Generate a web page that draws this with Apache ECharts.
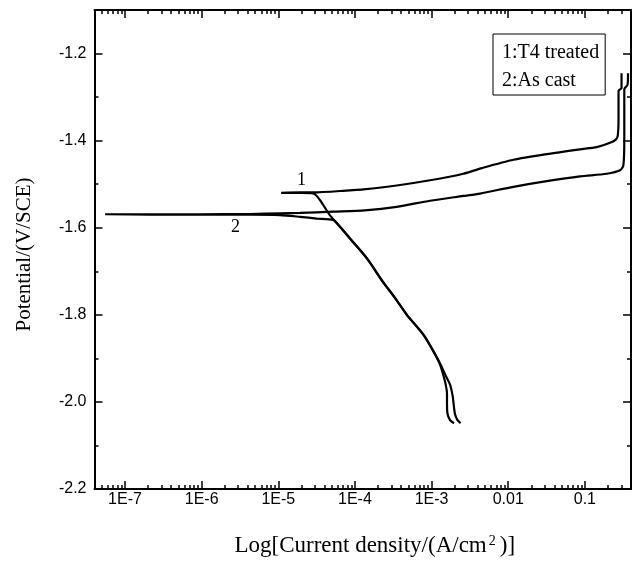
<!DOCTYPE html>
<html><head><meta charset="utf-8">
<script src="https://cdn.jsdelivr.net/npm/echarts@6/dist/echarts.min.js"></script>
<style>html,body{margin:0;padding:0;background:#fff}#c{width:635px;height:562px}</style>
</head><body><div id="c"></div><script>
// ---- data (current density A/cm^2, potential V/SCE) ----
const seriesNames = ['1:T4 treated', '2:As cast'];
const t4Cathodic = [[1.96e-3,-2.049],[1.74e-3,-2.042],[1.61e-3,-2.026],[1.59e-3,-2.001],[1.59e-3,-1.981],[1.52e-3,-1.958],[1.41e-3,-1.936],[1.29e-3,-1.914],[1.05e-3,-1.883],[7.8e-4,-1.845],[4.74e-4,-1.800],[3.33e-4,-1.761],[2.3e-4,-1.723],[1.43e-4,-1.670],[8.6e-5,-1.624],[4.7e-5,-1.571],[2.86e-5,-1.521],[1.92e-5,-1.520],[1.09e-5,-1.520]];
const t4Anodic = [[1.92e-5,-1.519],[2.86e-5,-1.519],[8.6e-5,-1.514],[1.29e-4,-1.512],[3.51e-4,-1.503],[9.54e-4,-1.491],[2.6e-3,-1.476],[4.55e-3,-1.463],[1.17e-2,-1.444],[3.18e-2,-1.431],[8.65e-2,-1.420],[0.143,-1.415],[0.213,-1.405],[0.255,-1.397],[0.269,-1.388],[0.275,-1.350],[0.275,-1.286],[0.301,-1.279],[0.301,-1.245]];
const castCathodic = [[2.39e-3,-2.049],[2.18e-3,-2.042],[2.02e-3,-2.028],[1.93e-3,-2.001],[1.88e-3,-1.985],[1.74e-3,-1.960],[1.54e-3,-1.941],[1.31e-3,-1.914],[1.06e-3,-1.884],[7.85e-4,-1.846],[4.78e-4,-1.800],[3.33e-4,-1.761],[2.3e-4,-1.724],[1.44e-4,-1.671],[8.6e-5,-1.625],[6.4e-5,-1.598],[5.2e-5,-1.582],[3.17e-5,-1.579],[1.92e-5,-1.575],[1.05e-5,-1.571],[4.28e-6,-1.570],[9.5e-7,-1.570],[2.1e-7,-1.570],[5.5e-8,-1.569]];
const castAnodic = [[2.1e-7,-1.569],[9.5e-7,-1.569],[4.28e-6,-1.5685],[1.05e-5,-1.567],[1.92e-5,-1.566],[5.18e-5,-1.563],[1.35e-4,-1.560],[3.51e-4,-1.552],[9.54e-4,-1.538],[2.6e-3,-1.527],[4.29e-3,-1.5215],[1.17e-2,-1.506],[3.18e-2,-1.493],[8.65e-2,-1.482],[0.193,-1.476],[0.2875,-1.468],[0.318,-1.457],[0.327,-1.396],[0.327,-1.282],[0.360,-1.272],[0.366,-1.245]];
const curveLabels = [['1', 2.01e-5, -1.492], ['2', 2.77e-6, -1.599]];

// ---- axes ----
const xMin = 4e-8, xMax = 0.4;
const xMajorTicks = [1e-7, 1e-6, 1e-5, 1e-4, 1e-3, 0.01, 0.1];
const xTickLabels = ['1E-7', '1E-6', '1E-5', '1E-4', '1E-3', '0.01', '0.1'];
const xMinorMultipliers = [2, 3, 4, 5, 6, 7, 8, 9];
const yMin = -2.2, yMax = -1.1;
const yMajorTicks = [-2.2, -2.0, -1.8, -1.6, -1.4, -1.2];
const yMinorTicks = [-2.1, -1.9, -1.7, -1.5, -1.3];

const xMinorTicks = [];
[1e-8].concat(xMajorTicks).forEach(d => xMinorMultipliers.forEach(m => {
  const v = d * m; if (v > xMin * 1.0001 && v < xMax * 0.9999) xMinorTicks.push(v);
}));

const sansFont = "'Liberation Sans', Arial, sans-serif";
const serifFont = "'Liberation Serif', 'Times New Roman', serif";
const lineBlack = { color: '#000', width: 2 };

function xAx(position, ticks, len, showLine, showLabel, extra) {
  return Object.assign({
    type: 'log', min: xMin, max: xMax, position: position,
    axisLine: { show: showLine, lineStyle: lineBlack },
    axisTick: { show: true, inside: true, length: len, customValues: ticks, lineStyle: { color: '#000', width: 1.5 } },
    axisLabel: showLabel ? {
      show: true, customValues: xMajorTicks, margin: 3, color: '#000', fontFamily: sansFont, fontSize: 16,
      formatter: v => { const i = xMajorTicks.findIndex(t => Math.abs(Math.log10(t) - Math.log10(v)) < 1e-6); return i >= 0 ? xTickLabels[i] : ''; }
    } : { show: false },
    splitLine: { show: false }, minorTick: { show: false }, minorSplitLine: { show: false }
  }, extra || {});
}
function yAx(position, ticks, len, showLine, showLabel, extra) {
  return Object.assign({
    type: 'value', min: yMin, max: yMax, position: position,
    axisLine: { show: showLine, lineStyle: lineBlack },
    axisTick: { show: true, inside: true, length: len, customValues: ticks, lineStyle: { color: '#000', width: 1.5 } },
    axisLabel: showLabel ? {
      show: true, customValues: yMajorTicks, margin: 8, color: '#000', fontFamily: sansFont, fontSize: 16,
      formatter: v => v.toFixed(1)
    } : { show: false },
    splitLine: { show: false }
  }, extra || {});
}

const chart = echarts.init(document.getElementById('c'), null, { renderer: 'canvas' });
chart.setOption({
  animation: false,
  backgroundColor: '#fff',
  grid: { left: 94.5, right: 4, top: 10, bottom: 70, containLabel: false },
  legend: {
    show: true, data: seriesNames, left: 493, top: 34, orient: 'vertical',
    icon: 'none', itemWidth: 0, itemHeight: 20, itemGap: 8, padding: [9, 6, 4, 4],
    borderColor: '#000', borderWidth: 1, selectedMode: false,
    textStyle: { color: '#000', fontFamily: serifFont, fontSize: 20 }
  },
  xAxis: [
    xAx('bottom', xMajorTicks, 8, true, true, {
      name: 'Log[Current density/(A/cm{sup|2})]', nameLocation: 'middle', nameGap: 45,
      nameTextStyle: { color: '#000', fontFamily: serifFont, fontSize: 23, padding: [0, 0, 0, 24],
        rich: { sup: { fontSize: 14, verticalAlign: 'top', fontFamily: serifFont, color: '#000', padding: [0, 4, 0, 2] } } }
    }),
    xAx('bottom', xMinorTicks, 4, false, false),
    xAx('top', xMajorTicks, 8, true, false),
    xAx('top', xMinorTicks, 4, false, false)
  ],
  yAxis: [
    yAx('left', yMajorTicks, 8, true, true, {
      name: 'Potential/(V/SCE)', nameLocation: 'middle', nameGap: 60, nameRotate: 90,
      nameTextStyle: { color: '#000', fontFamily: serifFont, fontSize: 21, padding: [0, 10, 0, 0] }
    }),
    yAx('left', yMinorTicks, 4, false, false),
    yAx('right', yMajorTicks, 8, true, false),
    yAx('right', yMinorTicks, 4, false, false)
  ],
  series: [
    { name: seriesNames[0], type: 'line', xAxisIndex: 0, yAxisIndex: 0, data: t4Cathodic.concat(t4Anodic),
      symbol: 'none', smooth: 0.25, lineStyle: { color: '#000', width: 2.2 }, itemStyle: { color: '#000' },
      markPoint: { symbol: 'circle', symbolSize: 1, itemStyle: { color: 'rgba(0,0,0,0)' },
        label: { show: true, position: 'inside', formatter: curveLabels[0][0], color: '#000', fontFamily: serifFont, fontSize: 18 },
        data: [{ coord: [curveLabels[0][1], curveLabels[0][2]] }] } },
    { name: seriesNames[1], type: 'line', xAxisIndex: 0, yAxisIndex: 0, data: castCathodic.concat(castAnodic),
      symbol: 'none', smooth: 0.25, lineStyle: { color: '#000', width: 2.2 }, itemStyle: { color: '#000' },
      markPoint: { symbol: 'circle', symbolSize: 1, itemStyle: { color: 'rgba(0,0,0,0)' },
        label: { show: true, position: 'inside', formatter: curveLabels[1][0], color: '#000', fontFamily: serifFont, fontSize: 18 },
        data: [{ coord: [curveLabels[1][1], curveLabels[1][2]] }] } }
  ]
});
</script></body></html>
